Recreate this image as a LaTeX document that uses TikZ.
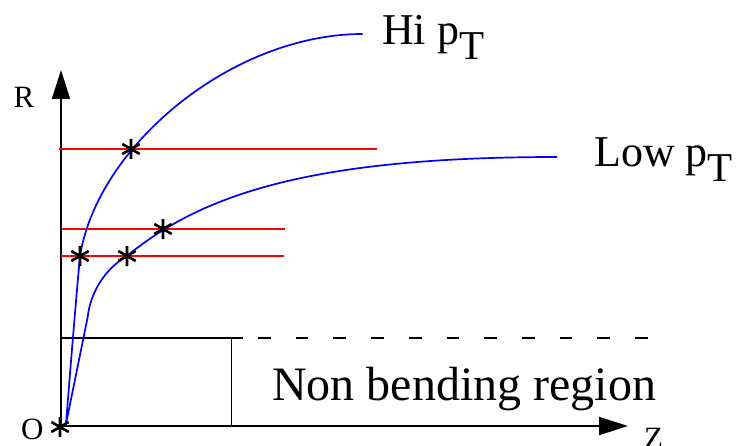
\documentclass[tikz,border=0pt]{standalone}
\usepackage{fontspec}
\setmainfont{Liberation Serif}
\usetikzlibrary{arrows.meta}
\begin{document}
\begin{tikzpicture}[x=1pt,y=-1pt,
 axis/.style={line width=2pt, -{Triangle[length=29pt,width=18pt]}},
 trk/.style={blue, line width=1.7pt},
 layer/.style={red, line width=2pt},
 thinln/.style={line width=1.4pt},
 starmk/.style={line width=2.6pt, black},
 lbl/.style={inner sep=0pt, font=\fontsize{31}{34}\selectfont},
 big/.style={inner sep=0pt, font=\fontsize{44}{48}\selectfont},
 huge/.style={inner sep=0pt, font=\fontsize{48}{52}\selectfont}]
\useasboundingbox (0,0) rectangle (743,446);
\clip (0,0) rectangle (743,446);
\newcommand{\astmark}[1]{\draw[starmk] (#1) +(0,-10) -- +(0,10) +(8.7,-5) -- +(-8.7,5) +(-8.7,-5) -- +(8.7,5);}
% axes
\coordinate (O) at (61,426);
\coordinate (Rtip) at (61,70);
\coordinate (Ztip) at (628,426);
\draw[axis] (O) -- (Rtip);
\draw[axis] (O) -- (Ztip);
% non bending box
\coordinate (B1) at (61,338);
\coordinate (B2) at (243,338);
\coordinate (B3) at (231.5,338);
\coordinate (B4) at (231.5,426);
\coordinate (D1) at (258,338);
\coordinate (D2) at (649,338);
\draw[thinln] (B1) -- (B2);
\draw[thinln] (B3) -- (B4);
\draw[thinln, dash pattern=on 12.7pt off 25pt] (D1) -- (D2);
% layers
\coordinate (L1a) at (59,149);  \coordinate (L1b) at (377,149);
\coordinate (L2a) at (62,229);  \coordinate (L2b) at (285,229);
\coordinate (L3a) at (61,256);  \coordinate (L3b) at (284,256);
\draw[layer] (L1a) -- (L1b);
\draw[layer] (L2a) -- (L2b);
\draw[layer] (L3a) -- (L3b);
% hit markers
\coordinate (S1) at (131,149);
\coordinate (S2) at (80,256);
\coordinate (S3) at (127,256);
\coordinate (S4) at (163,229);
\coordinate (S0) at (60,427);
% tracks
\coordinate (T0) at (66,424);
\coordinate (Hend) at (362.7,34);
\coordinate (Lk) at (87.7,317);
\coordinate (Lend) at (557,157);
\draw[trk] (T0) .. controls (71,360) and (76,300) .. (S2)
  .. controls (98,145) and (232.7,34) .. (Hend);
\draw[trk] (T0) -- (Lk) .. controls (90,295) and (103,270) .. (S3)
  .. controls (200,196) and (307,157) .. (Lend);
\astmark{S1}\astmark{S2}\astmark{S3}\astmark{S4}\astmark{S0}
% labels
\node[lbl, anchor=base] (Rl) at (24,108) {R};
\node[lbl, anchor=base west] (Ol) at (21,439.5) {O};
\node[lbl, anchor=north west] (Zl) at (644,428) {Z};
\node[big, anchor=base west] (hi) at (382,45) {Hi p\raisebox{-15pt}{\fontsize{41}{44}\selectfont T}};
\node[big, anchor=base west] (lo) at (594,167) {Low p\raisebox{-15pt}{\fontsize{41}{44}\selectfont T}};
\node[huge, anchor=base west] (nb) at (272,400.5) {Non bending region};
\end{tikzpicture}
\end{document}
